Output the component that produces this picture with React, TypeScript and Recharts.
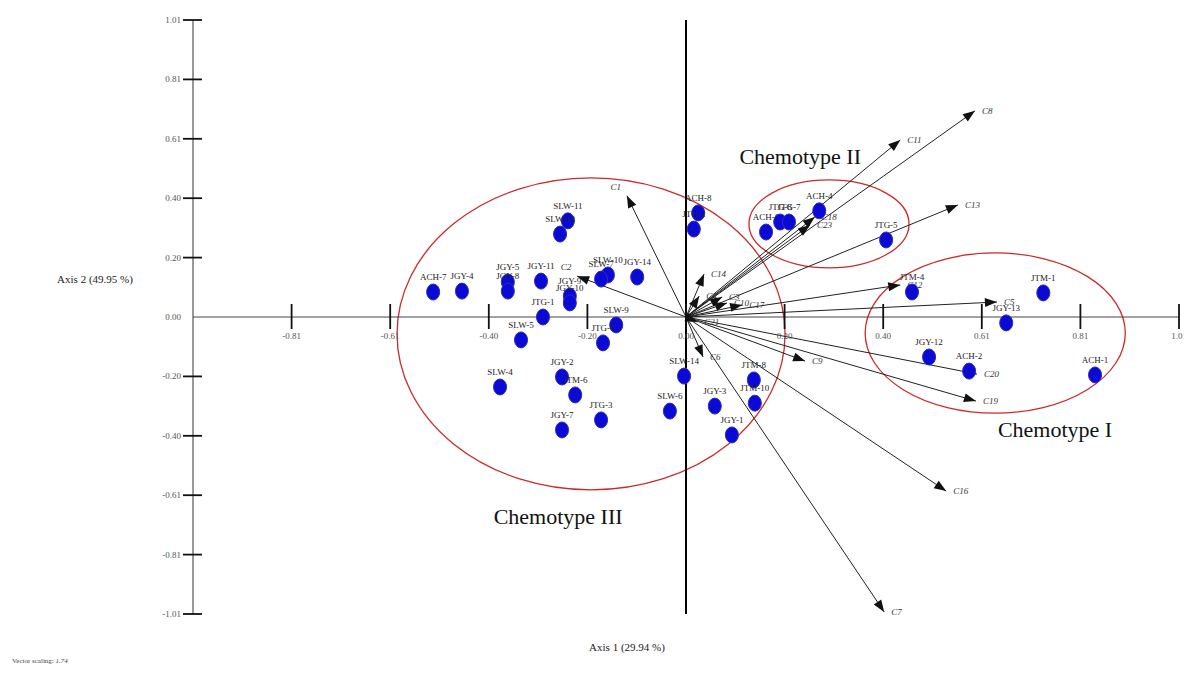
import React from "react";
import {
  ScatterChart,
  Scatter,
  XAxis,
  YAxis,
  ReferenceLine,
  ReferenceArea,
  ReferenceDot,
} from "recharts";

// sample scores (Axis 1 / Axis 2)
const sampleNames = [
  "ACH-7", "JGY-4", "JGY-5", "JGY-8", "JGY-11", "SLW-11", "SLW-13", "JGY-9",
  "JGY-10", "JTG-1", "SLW-10", "SLW-7", "JGY-14", "SLW-9", "JTG-6", "SLW-5",
  "SLW-4", "JGY-2", "JTM-6", "JGY-7", "JTG-3", "SLW-6", "SLW-14", "JGY-3",
  "JGY-1", "JTM-8", "JTM-10", "ACH-8", "JTG-2", "ACH-6", "JTG-8", "JTG-7",
  "ACH-4", "JTG-5", "JTM-1", "JGY-13", "JTM-4", "JGY-12", "ACH-2", "ACH-1",
];
const sampleAxis1 = [
  -0.518, -0.459, -0.365, -0.365, -0.297, -0.242, -0.258, -0.238,
  -0.238, -0.293, -0.16, -0.174, -0.1, -0.143, -0.17, -0.338,
  -0.381, -0.254, -0.227, -0.254, -0.174, -0.033, -0.004, 0.059,
  0.094, 0.139, 0.141, 0.025, 0.016, 0.164, 0.193, 0.211,
  0.273, 0.41, 0.732, 0.656, 0.463, 0.498, 0.58, 0.838,
];
const sampleAxis2 = [
  0.085, 0.088, 0.119, 0.088, 0.122, 0.327, 0.282, 0.071,
  0.048, 0.0, 0.143, 0.129, 0.136, -0.027, -0.088, -0.078,
  -0.238, -0.204, -0.265, -0.384, -0.35, -0.32, -0.201, -0.303,
  -0.401, -0.214, -0.293, 0.354, 0.299, 0.289, 0.323, 0.323,
  0.361, 0.262, 0.082, -0.02, 0.085, -0.136, -0.184, -0.197,
];

// compound vectors
const vectorNames = [
  "C8", "C11", "C13", "C18", "C23", "C1", "C2", "C14", "C4", "C3", "C10",
  "C17", "C12", "C5", "C20", "C19", "C9", "C16", "C7", "C6", "C21",
];
const vectorAxis1 = [
  0.592, 0.439, 0.557, 0.264, 0.254, -0.121, -0.223, 0.037, 0.027, 0.074, 0.084,
  0.115, 0.439, 0.637, 0.596, 0.594, 0.244, 0.533, 0.406, 0.035, 0.023,
];
const vectorAxis2 = [
  0.701, 0.602, 0.381, 0.34, 0.313, 0.412, 0.139, 0.146, 0.071, 0.068, 0.048,
  0.041, 0.109, 0.051, -0.194, -0.286, -0.15, -0.592, -1.003, -0.136, -0.017,
];

// chemotype groups
const groupNames = ["Chemotype I", "Chemotype II", "Chemotype III"];
const groupLeft = [0.367, 0.129, -0.592];
const groupRight = [0.9, 0.457, 0.203];
const groupTop = [0.218, 0.466, 0.473];
const groupBottom = [-0.327, 0.167, -0.588];
const groupLabelX = [0.756, 0.234, -0.262];
const groupLabelY = [-0.384, 0.544, -0.68];

const tickValues = [-1.01, -0.808, -0.606, -0.404, -0.202, 0, 0.202, 0.404, 0.606, 0.808, 1.01];
const tickLabels = ["-1.01", "-0.81", "-0.61", "-0.40", "-0.20", "0.00", "0.20", "0.40", "0.61", "0.81", "1.01"];

const serif = "'Liberation Serif', 'DejaVu Serif', serif";

const samples = sampleNames.map((name, i) => ({ name, x: sampleAxis1[i], y: sampleAxis2[i] }));
const groupLabels = groupNames.map((name, i) => ({ name, x: groupLabelX[i], y: groupLabelY[i] }));

const SampleDot = (p: any) => (
  <g>
    <ellipse cx={p.cx} cy={p.cy} rx={6.5} ry={8} fill="#0a0ad4" stroke="#2b2bbf" strokeWidth={1} />
    <text x={p.cx} y={p.cy - 12} textAnchor="middle" fontSize={9} fill="#222" fontFamily={serif}>
      {p.payload.name}
    </text>
  </g>
);

const xTickShape = (label: string) => (p: any) => (
  <g>
    <line x1={p.cx} x2={p.cx} y1={p.cy - 13} y2={p.cy + 12} stroke="#111" strokeWidth={1.8} />
    <text x={p.cx} y={p.cy + 22} textAnchor="middle" fontSize={9} fill="#555" fontFamily={serif}>
      {label}
    </text>
  </g>
);

const yTickShape = (label: string, mark: boolean) => (p: any) => (
  <g>
    {mark && <line x1={p.cx - 10} x2={p.cx + 9} y1={p.cy} y2={p.cy} stroke="#111" strokeWidth={1.8} />}
    <text x={p.cx - 12} y={p.cy + 3} textAnchor="end" fontSize={9} fill="#555" fontFamily={serif}>
      {label}
    </text>
  </g>
);

const GroupLabel = (p: any) => (
  <text x={p.cx} y={p.cy + 7} textAnchor="middle" fontSize={22} fill="#111" fontFamily={serif}>
    {p.payload.name}
  </text>
);

const EllipseShape = (p: any) => (
  <ellipse
    cx={p.x + p.width / 2}
    cy={p.y + p.height / 2}
    rx={p.width / 2}
    ry={p.height / 2}
    fill="none"
    stroke="#cc2a2a"
    strokeWidth={1.3}
  />
);

const arrowShape = (name: string) => (p: any) => {
  const { x1, y1, x2, y2 } = p;
  const ang = Math.atan2(y2 - y1, x2 - x1);
  const len = 12;
  const w = 4.5;
  const bx = x2 - len * Math.cos(ang);
  const by = y2 - len * Math.sin(ang);
  const px = -Math.sin(ang) * w;
  const py = Math.cos(ang) * w;
  const right = x2 >= x1;
  return (
    <g>
      <line x1={x1} y1={y1} x2={x2} y2={y2} stroke="#222" strokeWidth={1} />
      <polygon points={`${x2},${y2} ${bx + px},${by + py} ${bx - px},${by - py}`} fill="#111" />
      <text
        x={right ? x2 + 7 : x2 - 6}
        y={right ? y2 + 3 : y2 - 6}
        textAnchor={right ? "start" : "end"}
        fontSize={9}
        fontStyle="italic"
        fill="#333"
        fontFamily={serif}
      >
        {name}
      </text>
    </g>
  );
};

export default function App() {
  return (
    <div style={{ position: "absolute", left: 0, top: 0, width: 1184, height: 678, background: "#fff" }}>
      <ScatterChart width={1184} height={678} margin={{ top: 20, right: 5, bottom: 64, left: 193 }}>
        <XAxis type="number" dataKey="x" domain={[-1.01, 1.01]} allowDataOverflow hide />
        <YAxis type="number" dataKey="y" domain={[-1.01, 1.01]} allowDataOverflow hide />

        {groupNames.map((g, i) => (
          <ReferenceArea
            key={g}
            x1={groupLeft[i]}
            x2={groupRight[i]}
            y1={groupBottom[i]}
            y2={groupTop[i]}
            shape={EllipseShape}
          />
        ))}

        <ReferenceLine x={-1.01} stroke="#333" strokeWidth={1} />
        <ReferenceLine y={0} stroke="#444" strokeWidth={1} />
        <ReferenceLine x={0} stroke="#000" strokeWidth={2} />

        {tickValues.slice(1).map((v, i) => (
          <ReferenceDot
            key={"xt" + v}
            x={v}
            y={0}
            ifOverflow="visible"
            shape={xTickShape(tickLabels[i + 1])}
          />
        ))}
        {tickValues.map((v, i) => (
          <ReferenceDot
            key={"yt" + v}
            x={-1.01}
            y={v}
            ifOverflow="visible"
            shape={yTickShape(tickLabels[i], v !== 0)}
          />
        ))}

        <Scatter data={samples} shape={SampleDot} isAnimationActive={false} />
        <Scatter data={groupLabels} shape={GroupLabel} isAnimationActive={false} />

        {vectorNames.map((v, i) => (
          <ReferenceLine
            key={v}
            segment={[
              { x: 0, y: 0 },
              { x: vectorAxis1[i], y: vectorAxis2[i] },
            ]}
            shape={arrowShape(v)}
          />
        ))}
      </ScatterChart>

      <div
        style={{
          position: "absolute",
          left: 45,
          top: 273,
          width: 100,
          textAlign: "center",
          fontFamily: serif,
          fontSize: 11,
          color: "#222",
        }}
      >
        Axis 2 (49.95 %)
      </div>
      <div
        style={{
          position: "absolute",
          left: 557,
          top: 641,
          width: 140,
          textAlign: "center",
          fontFamily: serif,
          fontSize: 11,
          color: "#222",
        }}
      >
        Axis 1 (29.94 %)
      </div>
      <div
        style={{
          position: "absolute",
          left: 12,
          top: 657,
          fontFamily: serif,
          fontSize: 7,
          color: "#444",
        }}
      >
        Vector scaling: <i>1.74</i>
      </div>
    </div>
  );
}
